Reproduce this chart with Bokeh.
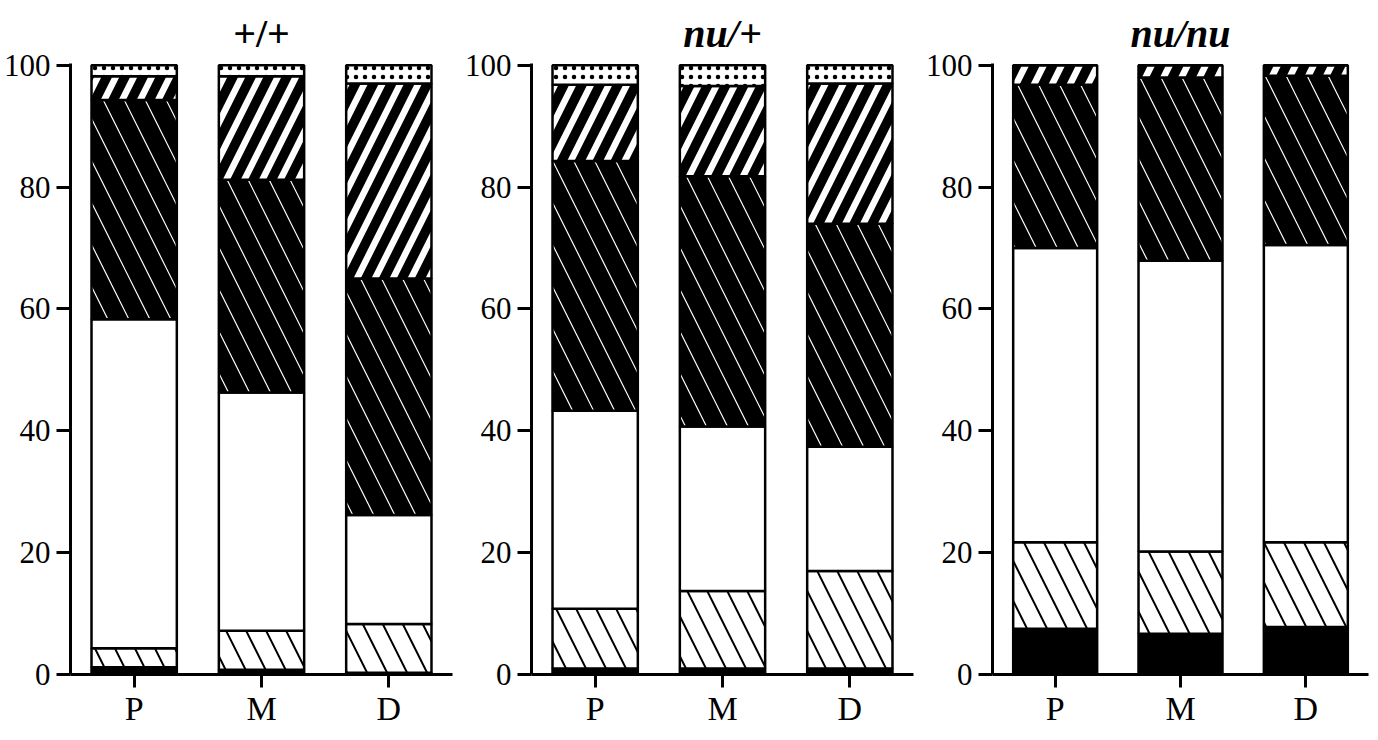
from bokeh.plotting import figure
from bokeh.layouts import row
from bokeh.models import FactorRange, Range1d, FixedTicker, ColumnDataSource
from bokeh.embed import file_html
from bokeh.resources import INLINE

# ---------------- data ----------------
categories = ["P", "M", "D"]
panel_titles = ["+/+", "nu/+", "nu/nu"]
y_ticks = [0, 20, 40, 60, 80, 100]
series = ["black", "sparse", "white", "dark", "stripe", "dots"]

# +/+ panel (segment heights, %)
wt_black = [1.2, 0.8, 0.3]
wt_sparse = [3.1, 6.4, 8.0]
wt_white = [54.0, 39.1, 17.9]
wt_dark = [36.0, 34.9, 38.8]
wt_stripe = [3.9, 17.0, 32.0]
wt_dots = [1.8, 1.8, 3.0]

# nu/+ panel
het_black = [1.0, 1.0, 1.0]
het_sparse = [9.8, 12.7, 16.0]
het_white = [32.5, 27.0, 20.4]
het_dark = [41.0, 41.1, 36.6]
het_stripe = [12.5, 14.8, 23.0]
het_dots = [3.2, 3.4, 3.0]

# nu/nu panel
nu_black = [7.5, 6.7, 7.8]
nu_sparse = [14.2, 13.5, 13.9]
nu_white = [48.3, 47.7, 48.8]
nu_dark = [26.8, 30.1, 27.8]
nu_stripe = [3.2, 2.0, 1.7]
nu_dots = [0.0, 0.0, 0.0]

panels = [
    [wt_black, wt_sparse, wt_white, wt_dark, wt_stripe, wt_dots],
    [het_black, het_sparse, het_white, het_dark, het_stripe, het_dots],
    [nu_black, nu_sparse, nu_white, nu_dark, nu_stripe, nu_dots],
]

# ---------------- styles ----------------
fill_colors = ["black", "white", "white", "black", "black", "white"]
hatch_patterns = [" ", "\\", " ", "\\", "/", "."]
hatch_colors = ["black", "black", "black", "white", "white", "black"]
hatch_weights = [1, 2, 1, 1.2, 6.5, 1]
hatch_scales = [12, 40, 12, 42, 36, 9]

FONT = "Liberation Serif"
title_styles = ["bold", "bold italic", "bold italic"]
frame_widths = [382, 382, 376]
right_borders = [9, 9, 1]

figs = []
for i, segs in enumerate(panels):
    data = {"x": categories}
    for name, vals in zip(series, segs):
        data[name] = vals
    src = ColumnDataSource(data)

    p = figure(
        x_range=FactorRange(*categories, range_padding=0),
        y_range=Range1d(0, 100.3),
        frame_width=frame_widths[i], frame_height=611,
        min_border_left=67, min_border_right=right_borders[i],
        min_border_top=63, min_border_bottom=55,
        output_backend="svg", toolbar_location=None,
        background_fill_color="white", border_fill_color="white",
    )
    p.outline_line_color = None
    p.grid.visible = False

    p.vbar_stack(
        series, x="x", width=0.67, source=src,
        fill_color=fill_colors, hatch_pattern=hatch_patterns,
        hatch_color=hatch_colors, hatch_weight=hatch_weights,
        hatch_scale=hatch_scales,
        line_color="black", line_width=2.5,
    )

    p.title.text = panel_titles[i]
    p.title.text_font = FONT
    p.title.text_font_size = "40px"
    p.title.text_font_style = title_styles[i]
    p.title.text_color = "black"
    p.title.align = "center"
    p.title.standoff = 15

    p.yaxis.ticker = FixedTicker(ticks=y_ticks)
    p.yaxis.minor_tick_line_color = None
    p.yaxis.major_tick_in = 0
    p.yaxis.major_tick_out = 14
    p.yaxis.major_label_standoff = 6

    p.xaxis.major_tick_in = 0
    p.xaxis.major_tick_out = 13
    p.xaxis.major_label_standoff = 2

    for ax in (p.xaxis, p.yaxis):
        ax.axis_line_width = 3
        ax.axis_line_color = "black"
        ax.major_tick_line_width = 3
        ax.major_tick_line_color = "black"
        ax.major_label_text_font = FONT
        ax.major_label_text_color = "black"
    p.yaxis.major_label_text_font_size = "31px"
    p.xaxis.major_label_text_font_size = "34px"

    figs.append(p)

layout = row(*figs)
open("out.html", "w").write(file_html(layout, INLINE))
